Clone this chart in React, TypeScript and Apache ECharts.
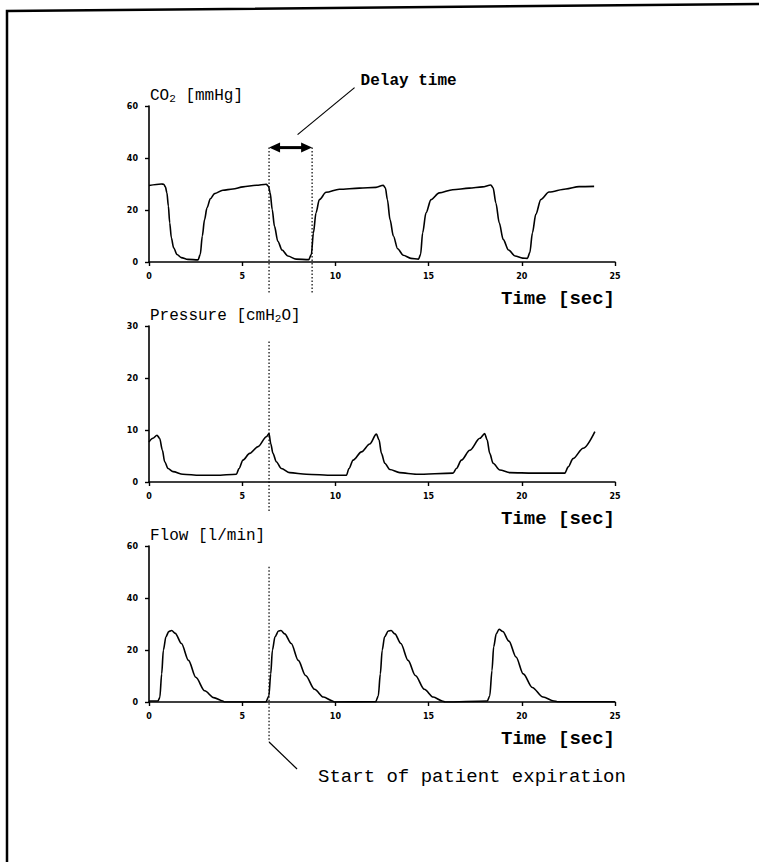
import React, { useEffect, useRef } from "react";
import * as echarts from "echarts";

// ---- data ----
const co2Time = [0, 0.66, 0.79, 0.88, 0.96, 1.04, 1.11, 1.2, 1.32, 1.5, 1.73, 2.09, 2.63, 2.75, 2.86, 2.98, 3.11, 3.29, 3.52, 3.96, 4.5, 5.04, 5.75, 6.29, 6.41, 6.5, 6.61, 6.73, 6.91, 7.14, 7.45, 7.89, 8.57, 8.71, 8.82, 8.96, 9.14, 9.5, 10.21, 11.29, 12.18, 12.57, 12.68, 12.79, 12.93, 13.11, 13.34, 13.64, 14.05, 14.46, 14.57, 14.68, 14.86, 15.13, 15.57, 16.29, 17.18, 17.89, 18.34, 18.46, 18.61, 18.79, 19.0, 19.29, 19.64, 20.04, 20.3, 20.43, 20.57, 20.75, 21.02, 21.46, 22.36, 23.07, 23.88];
const co2Value = [29.4, 30.0, 29.9, 28.9, 26.6, 21.5, 15.1, 9.3, 5.5, 2.9, 1.7, 1.0, 0.8, 2.9, 10.0, 16.3, 20.8, 24.3, 26.3, 27.6, 28.1, 28.9, 29.5, 29.9, 29.1, 26.6, 20.2, 13.8, 8.0, 4.6, 2.3, 1.1, 0.9, 2.9, 11.2, 18.9, 24.0, 26.8, 28.0, 28.4, 28.7, 29.5, 28.5, 24.0, 16.3, 10.0, 5.1, 2.6, 1.4, 1.1, 2.9, 11.2, 18.9, 24.0, 26.6, 27.8, 28.4, 28.9, 29.6, 28.5, 22.7, 15.1, 8.7, 4.6, 2.3, 1.5, 1.4, 3.6, 11.2, 18.3, 24.0, 26.9, 28.1, 29.0, 29.1];

const pressureTime = [0, 0.21, 0.43, 0.57, 0.72, 0.84, 1.02, 1.29, 1.82, 2.72, 3.61, 4.69, 4.83, 5.04, 5.4, 5.85, 6.3, 6.44, 6.53, 6.65, 6.83, 7.1, 7.55, 8.44, 9.87, 10.59, 10.73, 10.95, 11.4, 11.84, 12.2, 12.34, 12.47, 12.65, 12.92, 13.45, 14.35, 16.31, 16.49, 16.76, 17.21, 17.75, 18.01, 18.14, 18.28, 18.46, 18.82, 19.36, 20.61, 22.31, 22.49, 22.75, 23.29, 23.92];
const pressureValue = [7.7, 8.4, 9.0, 8.4, 6.1, 3.9, 2.6, 2.0, 1.5, 1.3, 1.3, 1.5, 2.6, 4.2, 5.5, 6.8, 8.7, 9.3, 7.4, 5.5, 3.9, 2.6, 1.8, 1.5, 1.3, 1.3, 2.6, 4.2, 5.8, 7.3, 9.2, 8.1, 5.5, 3.6, 2.4, 1.8, 1.5, 1.7, 2.6, 4.2, 6.1, 8.4, 9.3, 8.1, 5.5, 3.6, 2.3, 1.8, 1.7, 1.7, 2.9, 4.5, 6.5, 9.7];

const flowTime = [0, 0.48, 0.58, 0.68, 0.77, 0.91, 1.06, 1.22, 1.41, 1.74, 2.12, 2.51, 2.99, 3.47, 3.96, 4.05, 6.27, 6.43, 6.53, 6.62, 6.76, 6.95, 7.08, 7.28, 7.63, 8.01, 8.4, 8.88, 9.36, 9.85, 9.94, 12.16, 12.3, 12.41, 12.51, 12.64, 12.84, 12.99, 13.19, 13.51, 13.9, 14.29, 14.77, 15.25, 15.73, 15.89, 18.15, 18.28, 18.4, 18.49, 18.63, 18.78, 18.98, 19.31, 19.69, 20.08, 20.56, 21.14, 21.72, 21.91, 25.0];
const flowValue = [0.4, 0.4, 1.7, 10.8, 19.9, 25.1, 27.1, 27.5, 26.4, 22.5, 16.0, 9.5, 4.3, 1.7, 0.4, 0, 0, 2.3, 10.8, 19.9, 25.1, 27.3, 27.5, 26.2, 22.5, 16.0, 10.2, 4.9, 1.9, 0.4, 0, 0.1, 2.3, 10.8, 19.9, 25.1, 27.3, 27.5, 26.2, 22.5, 16.0, 10.2, 4.9, 1.9, 0.4, 0, 0.4, 2.3, 12.1, 21.2, 26.2, 28.0, 27.1, 23.4, 17.3, 10.8, 5.6, 1.9, 0.4, 0.1, 0.1];

const xTicks = { min: 0, max: 25, interval: 5 };
const yAxesSpec = [
  { min: 0, max: 60, interval: 20 },
  { min: 0, max: 30, interval: 10 },
  { min: 0, max: 60, interval: 20 },
];
const panelTitles = [
  [{ t: "CO", s: false }, { t: "2", s: true }, { t: " [mmHg]", s: false }],
  [{ t: "Pressure [cmH", s: false }, { t: "2", s: true }, { t: "O]", s: false }],
  [{ t: "Flow [l/min]", s: false }],
];
const xAxisTitle = "Time [sec]";
const delayLabel = "Delay time";
const expirationLabel = "Start of patient expiration";
const expirationStart = 6.44;
const co2RiseTime = 8.75;
const arrowLevel = 44;

const FONT = "'Liberation Mono', 'DejaVu Sans Mono', monospace";
const TICK_FONT = "'DejaVu Sans', sans-serif";

const zip = (a: number[], b: number[]) => a.map((v, i) => [v, b[i]]);

export default function App() {
  const ref = useRef<HTMLDivElement>(null);
  useEffect(() => {
    if (!ref.current) return;
    const chart = echarts.init(ref.current, null, { renderer: "svg" });
    const tops = [106, 326, 546];
    const grids = tops.map((top) => ({ left: 149, width: 466, top, height: 156 }));
    const axisCommon = {
      axisLine: { show: true, lineStyle: { color: "#000", width: 1.6 } },
      axisTick: { show: true, length: 4, lineStyle: { color: "#000", width: 1.4 } },
      splitLine: { show: false },
      axisLabel: { color: "#000", fontSize: 8, fontWeight: 900, fontFamily: TICK_FONT },
    };
    const xAxis = tops.map((_, i) => ({
      type: "value",
      gridIndex: i,
      ...xTicks,
      ...axisCommon,
      axisLabel: { ...axisCommon.axisLabel, margin: 10 },
    }));
    const yAxis = tops.map((_, i) => ({
      type: "value",
      gridIndex: i,
      ...yAxesSpec[i],
      ...axisCommon,
      axisLabel: { ...axisCommon.axisLabel, margin: 11 },
    }));
    const datasets = [zip(co2Time, co2Value), zip(pressureTime, pressureValue), zip(flowTime, flowValue)];
    const series = datasets.map((d, i) => ({
      type: "line",
      xAxisIndex: i,
      yAxisIndex: i,
      data: d,
      showSymbol: false,
      smooth: 0.3,
      smoothMonotone: "x",
      lineStyle: { color: "#000", width: 1.6 },
      silent: true,
    }));
    chart.setOption({
      animation: false,
      backgroundColor: "#fff",
      grid: grids,
      xAxis,
      yAxis,
      series,
    });

    const px = (g: number, x: number, y: number) =>
      chart.convertToPixel({ gridIndex: g } as any, [x, y]) as number[];

    const dotted = { stroke: "#000", lineWidth: 1.2, lineDash: [1.5, 2] };
    const elements: any[] = [];
    // frame
    elements.push({
      type: "polyline",
      shape: { points: [[7, 862], [7, 11], [759, 4]] },
      style: { stroke: "#000", lineWidth: 2.5, fill: null },
    });
    // panel titles
    tops.forEach((top, i) => {
      const parts = panelTitles[i];
      const text = parts.map((p) => (p.s ? `{s|${p.t}}` : `{a|${p.t}}`)).join("");
      elements.push({
        type: "text",
        x: 150,
        y: top - 10,
        style: {
          text,
          verticalAlign: "middle",
          rich: {
            a: { fontFamily: FONT, fontSize: 16, fill: "#000", verticalAlign: "middle" },
            s: { fontFamily: FONT, fontSize: 11, fill: "#000", padding: [6, 0, 0, 0] },
          },
        },
      });
      const axisPix = px(i, 25, 0);
      elements.push({
        type: "text",
        x: axisPix[0],
        y: axisPix[1] + 37,
        style: {
          text: xAxisTitle,
          fontFamily: FONT,
          fontSize: 19,
          fontWeight: "bold",
          fill: "#000",
          align: "right",
          verticalAlign: "middle",
        },
      });
    });
    // CO2 dotted lines and delay arrow
    const a1 = px(0, expirationStart, arrowLevel);
    const a2 = px(0, co2RiseTime, arrowLevel);
    const co2Axis = px(0, 0, 0)[1];
    [a1, a2].forEach((p) =>
      elements.push({ type: "line", shape: { x1: p[0], y1: p[1], x2: p[0], y2: co2Axis + 31 }, style: dotted })
    );
    elements.push({ type: "line", shape: { x1: a1[0] + 8, y1: a1[1], x2: a2[0] - 8, y2: a2[1] }, style: { stroke: "#000", lineWidth: 3 } });
    elements.push({ type: "polygon", shape: { points: [[a1[0], a1[1]], [a1[0] + 11, a1[1] - 5], [a1[0] + 11, a1[1] + 5]] }, style: { fill: "#000" } });
    elements.push({ type: "polygon", shape: { points: [[a2[0], a2[1]], [a2[0] - 11, a2[1] - 5], [a2[0] - 11, a2[1] + 5]] }, style: { fill: "#000" } });
    const mid = (a1[0] + a2[0]) / 2;
    elements.push({ type: "line", shape: { x1: mid + 7, y1: a1[1] - 13, x2: mid + 64, y2: a1[1] - 60 }, style: { stroke: "#000", lineWidth: 1.2 } });
    elements.push({
      type: "text",
      x: mid + 70,
      y: a1[1] - 67,
      style: { text: delayLabel, fontFamily: FONT, fontSize: 16, fontWeight: "bold", fill: "#000", verticalAlign: "middle" },
    });
    // pressure dotted line
    const pTop = px(1, expirationStart, 27);
    const pAxis = px(1, expirationStart, 0);
    elements.push({ type: "line", shape: { x1: pTop[0], y1: pTop[1], x2: pTop[0], y2: pAxis[1] + 30 }, style: dotted });
    // flow dotted line + leader
    const fTop = px(2, expirationStart, 52);
    const fAxis = px(2, expirationStart, 0);
    const fBottom = fAxis[1] + 40;
    elements.push({ type: "line", shape: { x1: fTop[0], y1: fTop[1], x2: fTop[0], y2: fBottom }, style: dotted });
    elements.push({ type: "line", shape: { x1: fTop[0], y1: fBottom, x2: fTop[0] + 28, y2: fBottom + 27 }, style: { stroke: "#000", lineWidth: 1.2 } });
    elements.push({
      type: "text",
      x: fTop[0] + 49,
      y: fBottom + 35,
      style: { text: expirationLabel, fontFamily: FONT, fontSize: 19, fill: "#000", verticalAlign: "middle" },
    });
    chart.setOption({ graphic: { elements } });

    return () => chart.dispose();
  }, []);
  return <div ref={ref} style={{ position: "fixed", left: 0, top: 0, width: 759, height: 862 }} />;
}
